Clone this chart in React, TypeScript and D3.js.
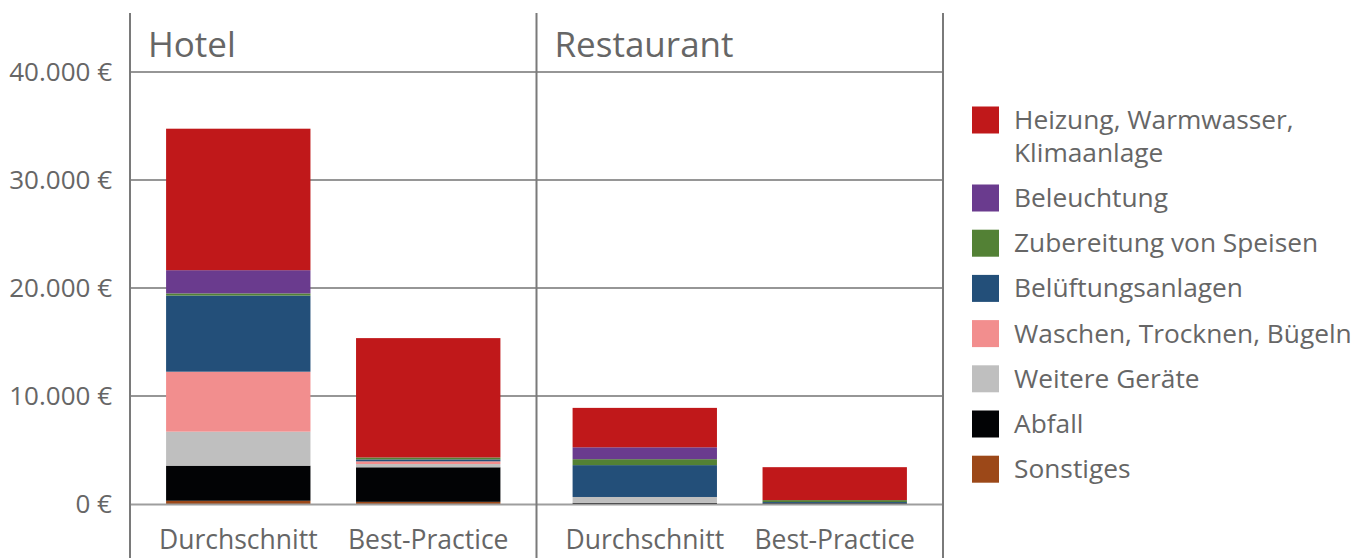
import React, { useRef, useEffect } from 'react';
import * as d3 from 'd3';

const panels = ['Hotel', 'Restaurant'];
const columns = ['Durchschnitt', 'Best-Practice'];
const categories = [
  'Sonstiges',
  'Abfall',
  'Weitere Geräte',
  'Waschen, Trocknen, Bügeln',
  'Belüftungsanlagen',
  'Zubereitung von Speisen',
  'Beleuchtung',
  'Heizung, Warmwasser, Klimaanlage',
];
const colors = ['#9c4818', '#020305', '#bfbfbf', '#f28e8e', '#234f79', '#538135', '#6a3b8e', '#c0181a'];

// values in € per category (same order as categories)
const hotelAvg = [300, 3250, 3150, 5550, 7050, 200, 2150, 13100];
const hotelBest = [200, 3200, 300, 250, 180, 180, 0, 11050];
const restAvg = [0, 100, 550, 0, 2950, 550, 1100, 3650];
const restBest = [0, 80, 0, 0, 100, 180, 0, 3050];

const yTicks = [0, 10000, 20000, 30000, 40000];
const legendOrder = [7, 6, 5, 4, 3, 2, 1, 0];

const FONT = "'Open Sans', sans-serif";
const TEXT = '#666666';

export default function App() {
  const ref = useRef<SVGSVGElement | null>(null);

  useEffect(() => {
    if (!ref.current) return;
    const width = 1370;
    const height = 558;
    const svg = d3.select(ref.current);
    svg.selectAll('*').remove();
    svg.attr('width', width).attr('height', height);

    const left = 130;
    const panelW = 406.5;
    const right = left + panelW * 2;

    const y = d3.scaleLinear().domain([0, 40000]).range([504, 72]);

    const rows = [
      { panel: 'Hotel', col: 'Durchschnitt', vals: hotelAvg },
      { panel: 'Hotel', col: 'Best-Practice', vals: hotelBest },
      { panel: 'Restaurant', col: 'Durchschnitt', vals: restAvg },
      { panel: 'Restaurant', col: 'Best-Practice', vals: restBest },
    ].map((r) => {
      const o: any = { panel: r.panel, col: r.col };
      categories.forEach((c, i) => (o[c] = r.vals[i]));
      return o;
    });

    const stack = d3.stack<any>().keys(categories);
    const series = stack(rows);

    const px = d3.scaleBand().domain(panels).range([left, right]);
    const bx = d3.scaleBand().domain(columns).range([0, panelW]).paddingInner(0.24).paddingOuter(0.19);

    // gridlines
    svg.append('g')
      .selectAll('line')
      .data(yTicks.slice(1))
      .join('line')
      .attr('x1', left).attr('x2', right)
      .attr('y1', (d) => y(d)).attr('y2', (d) => y(d))
      .attr('stroke', '#737373')
      .attr('stroke-width', 1.5);

    // bars
    const g = svg.append('g');
    series.forEach((s, i) => {
      g.append('g')
        .attr('fill', colors[i])
        .selectAll('rect')
        .data(s)
        .join('rect')
        .attr('x', (d: any) => (px(d.data.panel) as number) + (bx(d.data.col) as number))
        .attr('width', bx.bandwidth())
        .attr('y', (d) => y(d[1]))
        .attr('height', (d) => y(d[0]) - y(d[1]));
    });

    // baseline
    svg.append('line')
      .attr('x1', left).attr('x2', right)
      .attr('y1', y(0) + 0.5).attr('y2', y(0) + 0.5)
      .attr('stroke', '#9e9e9e')
      .attr('stroke-width', 2);

    // vertical separators
    svg.append('g')
      .selectAll('line')
      .data([left, left + panelW, right])
      .join('line')
      .attr('x1', (d) => d).attr('x2', (d) => d)
      .attr('y1', 13).attr('y2', height)
      .attr('stroke', '#7a7a7a')
      .attr('stroke-width', 2);

    // y tick labels
    svg.append('g')
      .selectAll('text')
      .data(yTicks)
      .join('text')
      .attr('x', 112)
      .attr('y', (d) => y(d) + 9)
      .attr('text-anchor', 'end')
      .attr('font-family', FONT)
      .attr('font-size', 26)
      .attr('fill', TEXT)
      .text((d) => d3.format(',')(d).replace(/,/g, '.') + ' €');

    // panel titles
    svg.append('g')
      .selectAll('text')
      .data(panels)
      .join('text')
      .attr('x', (d) => (px(d) as number) + 18)
      .attr('y', 57)
      .attr('font-family', FONT)
      .attr('font-size', 35)
      .attr('fill', TEXT)
      .text((d) => d);

    // column labels
    const labels = svg.append('g');
    panels.forEach((p) => {
      columns.forEach((c) => {
        labels.append('text')
          .attr('x', (px(p) as number) + (bx(c) as number) + bx.bandwidth() / 2)
          .attr('y', 549)
          .attr('text-anchor', 'middle')
          .attr('font-family', FONT)
          .attr('font-size', 26.5)
          .attr('fill', TEXT)
          .text(c);
      });
    });

    // legend
    const lg = svg.append('g').attr('transform', 'translate(972,0)');
    legendOrder.forEach((ci, k) => {
      const cy = k === 0 ? 120 : 198 + (k - 1) * 45.2;
      lg.append('rect')
        .attr('x', 0).attr('y', cy - 13.5)
        .attr('width', 27).attr('height', 27)
        .attr('fill', colors[ci]);
      const t = lg.append('text')
        .attr('x', 42)
        .attr('y', cy + 9)
        .attr('font-family', FONT)
        .attr('font-size', 26.3)
        .attr('fill', TEXT);
      if (ci === 7) {
        t.append('tspan').attr('x', 42).text('Heizung, Warmwasser,');
        t.append('tspan').attr('x', 42).attr('dy', 33).text('Klimaanlage');
      } else {
        t.text(categories[ci]);
      }
    });
  }, []);

  return (
    <svg
      ref={ref}
      style={{ position: 'absolute', left: 0, top: 0, display: 'block', background: '#fff' }}
    />
  );
}
